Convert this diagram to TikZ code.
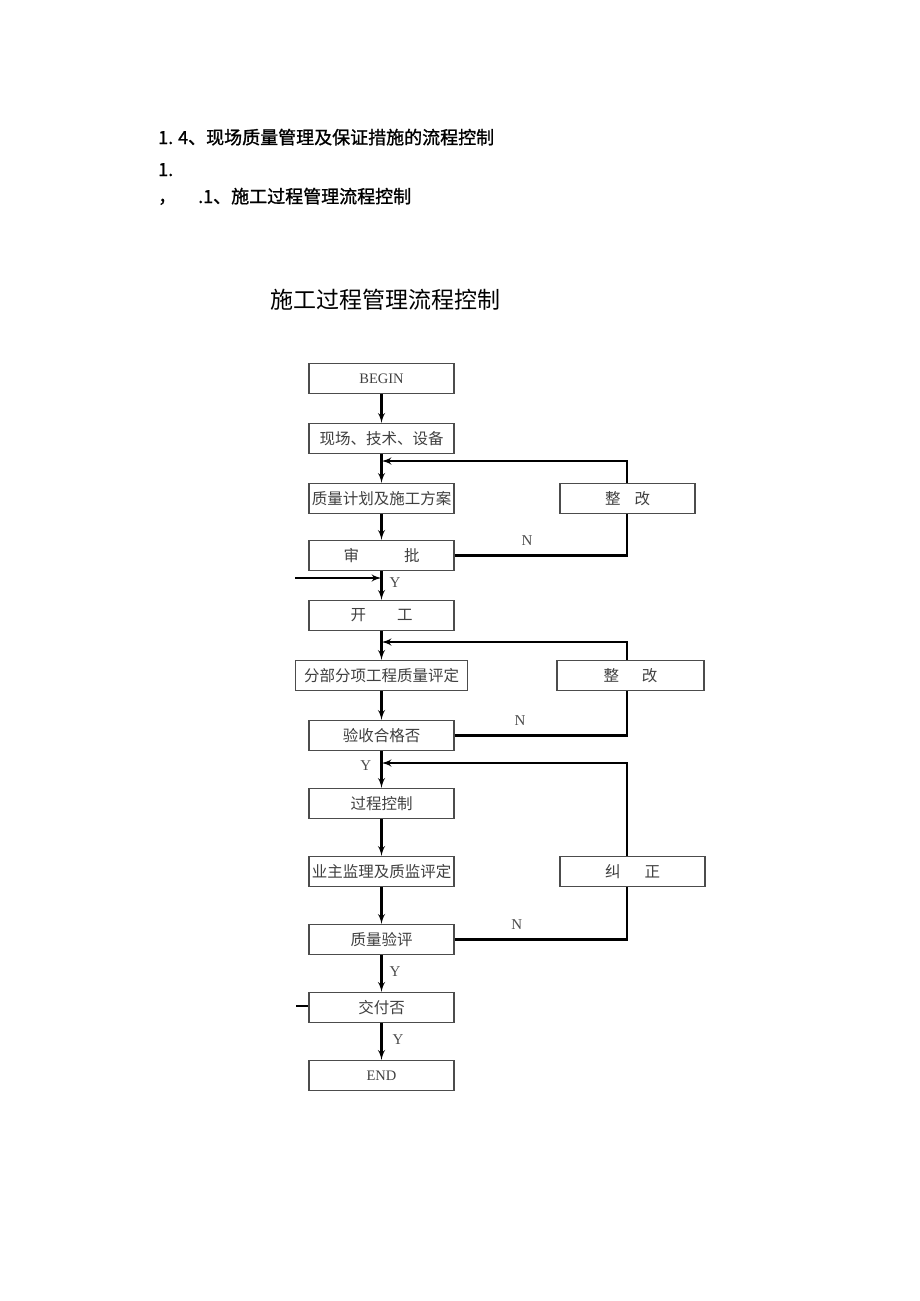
\documentclass[tikz,border=0pt]{standalone}
\usepackage{fontspec}
\setmainfont{Liberation Serif}
\newfontfamily\cjk{Noto Sans CJK SC}
\newfontfamily\cjkhead[FakeBold=1.2]{Noto Sans CJK SC}
\usetikzlibrary{shapes,arrows}
\tikzstyle{block} = [rectangle, draw=black!70, line width=1.2pt, fill=white, minimum width=145pt, minimum height=30pt, inner sep=0pt, text=black!75, font=\cjk\fontsize{15.5}{18}\selectfont]
\tikzstyle{latin} = [font=\fontsize{14.5}{16}\selectfont]
\tikzstyle{line} = [draw, line width=2.4pt, -latex']
\tikzstyle{back} = [draw, line width=2.4pt]
\tikzstyle{yn} = [text=black!70, font=\fontsize{15}{16}\selectfont, inner sep=2pt]
\tikzstyle{head} = [anchor=base west, inner sep=0pt, font=\cjkhead\fontsize{18}{21}\selectfont]

\begin{document}
\begin{tikzpicture}[x=1pt, y=-1pt, node distance=60pt, auto]
  \useasboundingbox (0,0) rectangle (920,1301);
  % Headings
  \node [head] (head1) at (158,144) {1.\hspace{5pt}4、现场质量管理及保证措施的流程控制};
  \node [head] (head2) at (158,176) {1.};
  \node [head] (head3) at (158,203) {，\hspace{22pt}.1、施工过程管理流程控制};
  \node [font=\cjk\fontsize{23}{26}\selectfont] (title) at (385,300) {施工过程管理流程控制};
  % Place nodes
  \node [block, latin] (begin) at (381.5,378.5) {BEGIN};
  \node [block, below of=begin] (site) {现场、技术、设备};
  \node [block, below of=site] (plan) {质量计划及施工方案};
  \node [block, below of=plan, node distance=57pt] (check) {审\hspace{45pt}批};
  \node [block, below of=check] (start) {开\hspace{31pt}工};
  \node [block, below of=start, minimum width=172pt] (part) {分部分项工程质量评定};
  \node [block, below of=part] (accept) {验收合格否};
  \node [block, below of=accept, node distance=68pt] (process) {过程控制};
  \node [block, below of=process, node distance=68pt] (owner) {业主监理及质监评定};
  \node [block, below of=owner, node distance=68pt] (grade) {质量验评};
  \node [block, below of=grade, node distance=68pt] (deliver) {交付否};
  \node [block, latin, below of=deliver, node distance=68pt] (end) {END};
  \node [block, minimum width=135pt, right of=plan, node distance=246pt] (fix1) {整\hspace{14pt}改};
  \node [block, minimum width=147pt, right of=part, node distance=249pt] (fix2) {整\hspace{23pt}改};
  \node [block, minimum width=145pt, right of=owner, node distance=251pt] (fix3) {纠\hspace{24pt}正};
  \coordinate (loop1) at (627,461);
  \coordinate (loop2) at (627,642);
  \coordinate (loop3) at (627,763);
  \coordinate (in1) at (295,578);
  \coordinate (in2) at (296,1006);
  % Draw edges
  \path [line] (begin) -- (site);
  \path [line] (site) -- (plan);
  \path [line] (plan) -- (check);
  \path [line] (check) -- node [yn, pos=0.4, right, xshift=5pt] {Y} (start);
  \path [line] (start) -- (part);
  \path [line] (part) -- (accept);
  \path [line] (accept) -- node [yn, pos=0.4, left, xshift=-7pt] {Y} (process);
  \path [line] (process) -- (owner);
  \path [line] (owner) -- (grade);
  \path [line] (grade) -- node [yn, pos=0.45, right, xshift=5pt] {Y} (deliver);
  \path [line] (deliver) -- node [yn, pos=0.45, right, xshift=8pt] {Y} (end);
  % loops back
  \path [back] (check.east) -| node [yn, pos=0.21, above=7pt] {N} (fix1.south -| loop1);
  \path [line] (fix1.north -| loop1) -- (loop1) -- (loop1 -| site);
  \path [back] (accept.east) -| node [yn, pos=0.19, above=7pt] {N} (fix2.south -| loop2);
  \path [line] (fix2.north -| loop2) -- (loop2) -- (loop2 -| start);
  \path [back] (grade.east) -| node [yn, pos=0.18, above=7pt] {N} (fix3.south -| loop3);
  \path [line] (fix3.north -| loop3) -- (loop3) -- (loop3 -| accept);
  \path [line] (in1) -- (in1 -| check);
  \path [back] (in2) -- (in2 -| deliver.west);
\end{tikzpicture}
\end{document}
